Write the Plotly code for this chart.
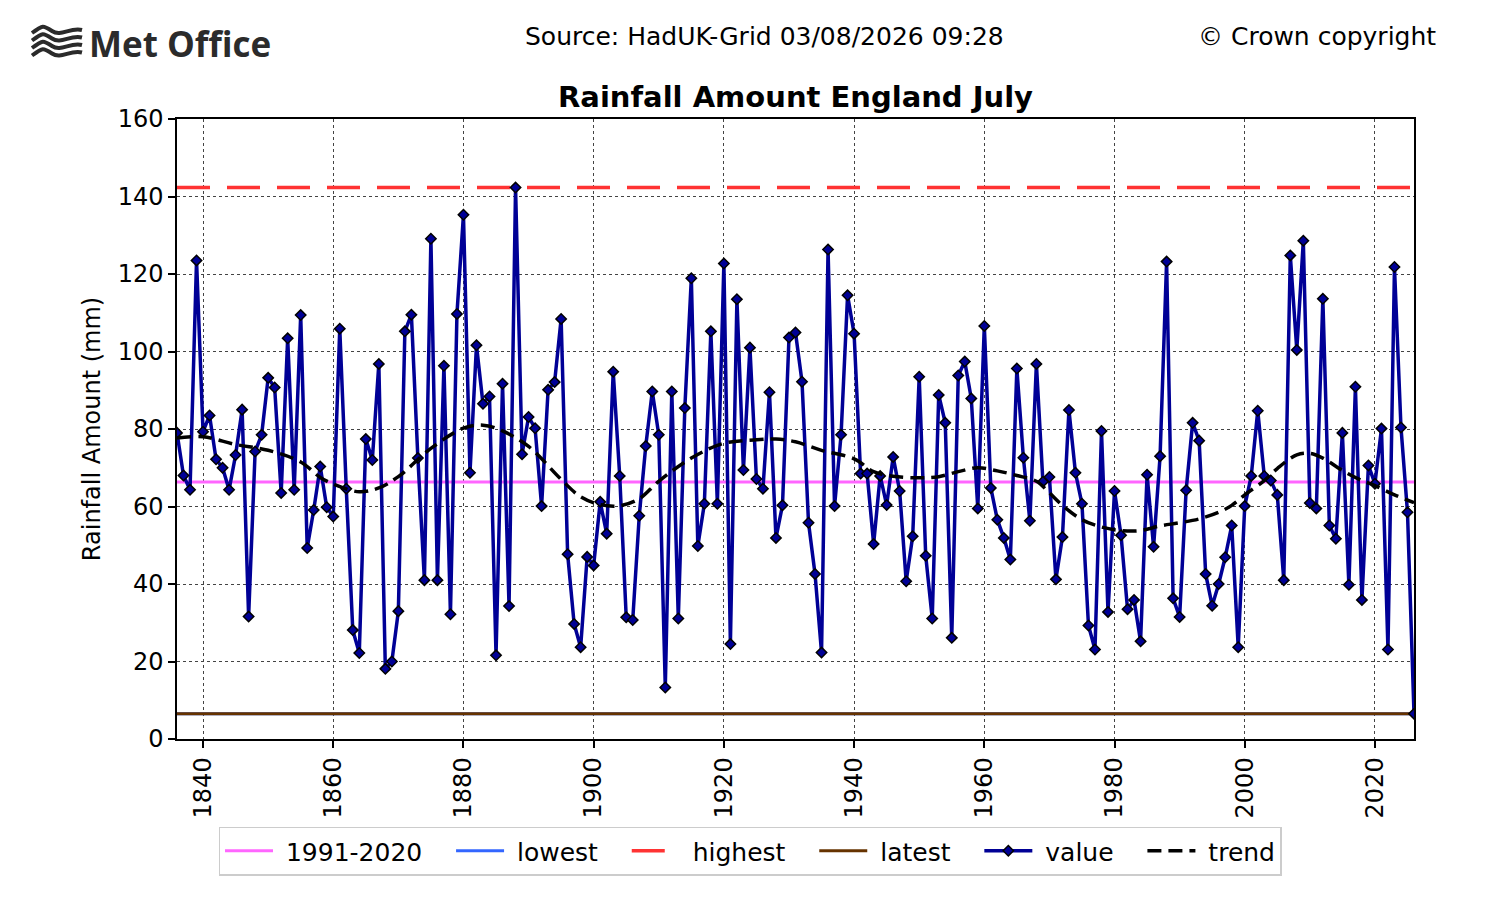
"""
Rainfall Amount England July (HadUK-Grid) - Met Office style chart
"""
import plotly.graph_objects as go

# 年ごとの7月降水量 (mm)
YEARS = list(range(1836, 2027))
RAINFALL = [
    79.0, 68.0, 64.3, 123.5,                                          # 1836-1839
    79.3, 83.5, 72.2, 70.0, 64.3, 73.3, 85.0, 31.6, 74.2, 78.5,       # 1840s
    93.2, 90.7, 63.5, 103.4, 64.3, 109.4, 49.3, 59.1, 70.3, 59.8,     # 1850s
    57.4, 105.9, 64.6, 28.1, 22.2, 77.4, 72.0, 96.8, 18.1, 20.0,      # 1860s
    33.0, 105.2, 109.5, 72.5, 41.0, 129.1, 41.0, 96.3, 32.2, 109.7,   # 1870s
    135.3, 68.7, 101.6, 86.5, 88.4, 21.6, 91.7, 34.3, 142.3, 73.5,    # 1880s
    83.1, 80.2, 60.1, 90.1, 92.1, 108.4, 47.7, 29.7, 23.7, 47.0,      # 1890s
    44.8, 61.2, 53.0, 94.8, 67.9, 31.4, 30.7, 57.6, 75.6, 89.7,       # 1900s
    78.5, 13.3, 89.7, 31.1, 85.4, 118.9, 49.8, 60.7, 105.2, 60.7,     # 1910s
    122.7, 24.5, 113.5, 69.4, 101.0, 67.1, 64.6, 89.5, 51.9, 60.3,    # 1920s
    103.6, 104.9, 92.2, 55.8, 42.6, 22.3, 126.3, 60.1, 78.5, 114.5,   # 1930s
    104.6, 68.5, 68.5, 50.3, 67.9, 60.4, 72.8, 64.0, 40.7, 52.3,      # 1940s
    93.5, 47.3, 31.1, 88.8, 81.6, 26.1, 93.8, 97.4, 87.9, 59.5,       # 1950s
    106.6, 64.8, 56.6, 51.9, 46.3, 95.6, 72.6, 56.3, 96.8, 66.4,      # 1960s
    67.6, 41.2, 52.1, 84.9, 68.7, 60.7, 29.3, 23.1, 79.5, 32.8,       # 1970s
    64.0, 52.6, 33.5, 35.9, 25.2, 68.2, 49.6, 73.0, 123.2, 36.3,      # 1980s
    31.5, 64.2, 81.6, 77.0, 42.6, 34.4, 40.0, 46.9, 55.1, 23.7,       # 1990s
    60.1, 67.9, 84.7, 67.9, 66.7, 63.0, 41.0, 124.8, 100.4, 128.6,    # 2000s
    60.9, 59.5, 113.6, 55.1, 51.7, 79.0, 39.8, 90.9, 35.9, 70.6,      # 2010s
    65.9, 80.1, 23.1, 121.8, 80.4, 58.5, 6.5,                         # 2020-2026
]
assert len(YEARS) == len(RAINFALL)

# トレンド（平滑化曲線）の読み取り値
TREND_YEARS = [1836, 1840, 1845, 1850, 1855, 1858, 1860, 1864, 1867, 1870,
               1875, 1880, 1883, 1886, 1890, 1895, 1898, 1901, 1904, 1907,
               1910, 1915, 1920, 1925, 1928, 1931, 1935, 1940, 1943, 1946,
               1950, 1953, 1956, 1959, 1962, 1965, 1968, 1970, 1972, 1975,
               1978, 1981, 1984, 1987, 1990, 1993, 1996, 1998, 2000, 2003,
               2005, 2008, 2010, 2012, 2015, 2018, 2020, 2023, 2026]
TREND = [77.7, 78.0, 76.0, 74.5, 71.5, 67.5, 65.8, 63.8, 64.8, 67.7,
         75.0, 80.2, 81.0, 79.5, 75.5, 67.0, 62.5, 60.5, 60.2, 62.0,
         66.5, 72.5, 76.3, 77.2, 77.4, 76.7, 74.5, 72.3, 69.0, 67.8,
         67.4, 67.7, 69.0, 70.0, 69.2, 68.0, 66.5, 63.5, 60.3, 56.6,
         54.7, 53.8, 53.8, 55.0, 55.8, 56.8, 58.5, 60.3, 63.0, 66.7,
         69.8, 73.3, 73.7, 72.5, 69.3, 66.7, 65.4, 63.0, 61.0]

BASELINE_1991_2020 = 66.3
HIGHEST = max(RAINFALL)
LOWEST = min(RAINFALL)
LATEST = RAINFALL[-1]

TITLE = 'Rainfall Amount England July'
SOURCE = 'Source: HadUK-Grid 03/08/2026 09:28'
COPYRIGHT = '© Crown copyright'

# レイアウト（ピクセル）
W, H = 1500, 900
PL, PR, PT, PB = 177, 1414, 119, 739
OFS = 8  # ページの body 余白分ずらす
FONT = 'DejaVu Sans'
NB = '\u00a0'


def px2paper(px, py):
    """画面ピクセル → paper 座標"""
    return (px - PL) / (PR - PL), (PB - py) / (PB - PT)


def label(name, last=False):
    """凡例ラベル（matplotlib 風の余白）"""
    return NB + name + ('' if last else NB * 3)


def hline(value, name, color, width, dash='solid'):
    x_span = [YEARS[0], YEARS[-1]]
    return go.Scatter(x=x_span, y=[value, value], mode='lines', name=label(name),
                      line=dict(color=color, width=width, dash=dash), hoverinfo='skip')


fig = go.Figure()
fig.add_trace(hline(BASELINE_1991_2020, '1991-2020', '#ff66ff', 3))
fig.add_trace(hline(LOWEST, 'lowest', '#3366ff', 3))
fig.add_trace(hline(HIGHEST, 'highest', '#ff3333', 3.5, dash='33px,17px'))
fig.add_trace(hline(LATEST, 'latest', '#663300', 3))
fig.add_trace(go.Scatter(x=YEARS, y=RAINFALL, mode='lines+markers', name=label('value'),
                         line=dict(color='#000096', width=3.5),
                         marker=dict(symbol='diamond', size=8, color='#000096',
                                     line=dict(color='black', width=1.5))))
fig.add_trace(go.Scatter(x=TREND_YEARS, y=TREND, mode='lines', name=label('trend', last=True),
                         line=dict(color='black', width=3.5, dash='14px,7px', shape='spline', smoothing=1.0)))

axis_common = dict(showgrid=True, gridcolor='#444444', griddash='dot', gridwidth=1.3,
                   showline=True, linecolor='black', linewidth=1.5, mirror=True,
                   ticks='outside', ticklen=7, tickwidth=1.5, tickcolor='black',
                   zeroline=False, tickfont=dict(family=FONT, size=24, color='black'))

fig.update_xaxes(range=[YEARS[0], YEARS[-1]], tick0=1840, dtick=20, tickangle=-90, **axis_common)
fig.update_yaxes(range=[0, 160], dtick=20,
                 title=dict(text='Rainfall Amount (mm)', font=dict(family=FONT, size=24, color='black'), standoff=10),
                 **axis_common)

# Met Office ロゴ（波模様＋文字）
shapes = []
for cy in [31, 38.5, 46, 53.5]:
    a = px2paper(32, cy + 2)
    b = px2paper(43, cy - 6)
    m = px2paper(52, cy)
    d = px2paper(70, cy - 4)
    e = px2paper(82, cy - 1)
    path = f'M {a[0]},{a[1]} C {b[0]},{b[1]} {b[0]},{b[1]} {m[0]},{m[1]} S {d[0]},{d[1]} {e[0]},{e[1]}'
    shapes.append(dict(type='path', path=path, xref='paper', yref='paper',
                       line=dict(color='#2b2b2b', width=4)))

annotations = []
lx, ly = px2paper(87, 43)
annotations.append(dict(text='Met Office', x=lx, y=ly, xref='paper', yref='paper', xanchor='left', yanchor='middle',
                        showarrow=False, font=dict(family='Open Sans', size=35, color='#2b2b2b', weight=700)))
sx, sy = px2paper(764, 37)
annotations.append(dict(text=SOURCE, x=sx, y=sy, xref='paper', yref='paper', xanchor='center', yanchor='middle',
                        showarrow=False, font=dict(family=FONT, size=25, color='black')))
cx, cy = px2paper(1438, 37)
annotations.append(dict(text=COPYRIGHT, x=cx, y=cy, xref='paper', yref='paper', xanchor='right', yanchor='middle',
                        showarrow=False, font=dict(family=FONT, size=25, color='black')))
tx, ty = px2paper((PL + PR) / 2, 97)
annotations.append(dict(text=f'<b>{TITLE}</b>', x=tx, y=ty, xref='paper', yref='paper', xanchor='center', yanchor='middle',
                        showarrow=False, font=dict(family=FONT, size=29, color='black')))

legx, legy = px2paper(750, 851)
fig.update_layout(width=W, height=H, autosize=False,
                  margin=dict(l=PL - OFS, r=W - PR + OFS, t=PT - OFS, b=H - PB + OFS),
                  paper_bgcolor='white', plot_bgcolor='white',
                  font=dict(family=FONT, color='black'),
                  shapes=shapes, annotations=annotations,
                  showlegend=True,
                  legend=dict(orientation='h', x=legx, y=legy, xanchor='center', yanchor='middle',
                              bordercolor='#cccccc', borderwidth=1.5, bgcolor='white',
                              font=dict(family=FONT, size=25, color='black'), itemwidth=48,
                              traceorder='normal'))

fig.write_html('out.html')
